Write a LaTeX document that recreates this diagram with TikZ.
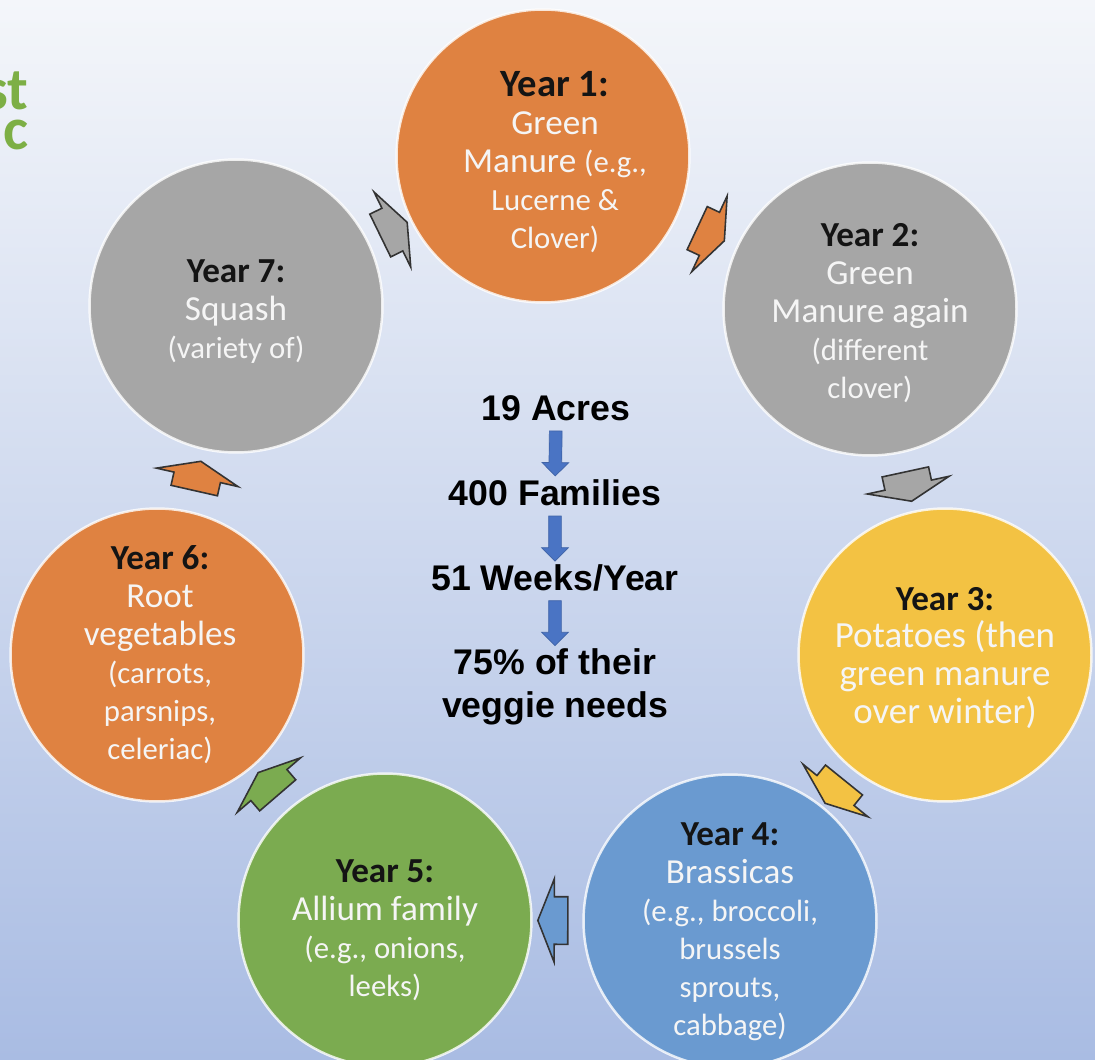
\documentclass[tikz,border=0pt]{standalone}
\usepackage{fontspec}
\setmainfont{Carlito}
\newfontfamily\arialfont{Liberation Sans}
\usetikzlibrary{shapes.arrows,calc}

\definecolor{rotorange}{HTML}{DF8241}
\definecolor{rotgray}{HTML}{A6A6A6}
\definecolor{rotyellow}{HTML}{F3C243}
\definecolor{rotblue}{HTML}{6A9AD0}
\definecolor{rotgreen}{HTML}{7BAB50}
\definecolor{titlegreen}{HTML}{7DAF45}
\definecolor{flowblue}{HTML}{4A74C4}
\definecolor{bgtop}{HTML}{F4F6FA}
\definecolor{bgbottom}{HTML}{A9BCE3}

\newcommand\yearlabel[1]{{\bfseries\color{black!92}#1}}
\newcommand\smalltext{\fontsize{17.5}{21.6}\selectfont}
\newcommand\bigtext{\fontsize{21}{21.6}\selectfont}

\tikzset{
	yearcircle/.style={circle, minimum size=5.86cm, inner sep=0pt, draw=white, draw opacity=0.8, line width=1.4pt},
	yeartext/.style={align=center, inner sep=0pt, text=white!96!black, font=\fontsize{20}{21.6}\selectfont},
	cyclearrow/.style={single arrow, draw=black!80, line width=0.9pt, inner xsep=0pt, inner ysep=0.46cm, minimum height=0.6cm, minimum width=1.64cm, single arrow head extend=0.36cm, single arrow tip angle=137, sloped, allow upside down},
	flowtext/.style={align=center, font=\arialfont\bfseries\fontsize{20.3}{24.5}\selectfont},
	flowarrow/.style={single arrow, fill=flowblue, draw=flowblue!85!black, line width=0.4pt, inner xsep=0pt, inner ysep=0.12cm, minimum height=0.9cm, minimum width=0.52cm, single arrow head extend=0.14cm, single arrow tip angle=90, sloped, allow upside down}
}

\begin{document}
\begin{tikzpicture}[x=0.02cm, y=-0.02cm]
		\useasboundingbox (0,0) rectangle (1095,1060);
		\clip (0,0) rectangle (1095,1060);
		\shade[top color=bgtop, bottom color=bgbottom] (0,0) rectangle (1095,1060);
		% title, cut off at the left edge
		\node[anchor=south east, inner sep=0pt, align=right, text=titlegreen, font=\bfseries\fontsize{34}{22.8}\selectfont] (titlepart) at (29,150) {st\\c};
		%
		\node[yearcircle, fill=rotorange] (y1) at (543,156) {};
		\node[yearcircle, fill=rotgray] (y2) at (870,309) {};
		\node[yearcircle, fill=rotyellow] (y3) at (945,655) {};
		\node[yearcircle, fill=rotblue] (y4) at (730,921) {};
		\node[yearcircle, fill=rotgreen] (y5) at (385,920) {};
		\node[yearcircle, fill=rotorange] (y6) at (157,655) {};
		\node[yearcircle, fill=rotgray] (y7) at (236,306) {};
		%
		\node[yeartext] (t1) at ([shift={(12,6)}]y1) {{\fontsize{22}{21.6}\selectfont\yearlabel{Year 1:}}\\Green\\Manure {\smalltext(e.g.,}\\{\smalltext Lucerne \&}\\{\smalltext Clover)}};
		\node[yeartext] (t2) at ([shift={(0,4)}]y2) {\yearlabel{Year 2:}\\Green\\Manure again\\{\smalltext(different}\\{\smalltext clover)}};
		\node[yeartext] (t3) at ([shift={(0,3)}]y3) {\yearlabel{Year 3:}\\{\bigtext Potatoes (then}\\{\bigtext green manure}\\{\bigtext over winter)}};
		\node[yeartext] (t4) at ([shift={(0,11)}]y4) {\yearlabel{Year 4:}\\Brassicas\\{\smalltext(e.g., broccoli,}\\{\smalltext brussels}\\{\smalltext sprouts,}\\{\smalltext cabbage)}};
		\node[yeartext] (t5) at ([shift={(0,10)}]y5) {\yearlabel{Year 5:}\\Allium family\\{\smalltext(e.g., onions,}\\{\smalltext leeks)}};
		\node[yeartext] (t6) at ([shift={(3,0)}]y6) {\yearlabel{Year 6:}\\Root\\vegetables\\{\smalltext(carrots,}\\{\smalltext parsnips,}\\{\smalltext celeriac)}};
		\node[yeartext] (t7) at ([shift={(0,6)}]y7) {\yearlabel{Year 7:}\\Squash\\{\smalltext(variety of)}};
		% block arrows round the cycle
		\path (y7) -- node[cyclearrow, fill=rotgray] {} (y1);
		\path (y1) -- node[cyclearrow, fill=rotorange] {} (y2);
		\path (y2) -- node[cyclearrow, fill=rotgray] {} (y3);
		\path (y3) -- node[cyclearrow, fill=rotyellow] {} (y4);
		\path (y4) -- node[cyclearrow, fill=rotblue] {} (y5);
		\path (y5) -- node[cyclearrow, fill=rotgreen] {} (y6);
		\path (y6) -- node[cyclearrow, fill=rotorange] {} (y7);
		% middle column
		\node[flowtext] (acres) at (556,408) {19 Acres};
		\node[flowtext] (families) at (555,493) {400 Families};
		\node[flowtext] (weeks) at (555,578) {51 Weeks/Year};
		\node[flowtext] (needs) at (555,687) {75\% of their\\veggie needs};
		\path (acres) -- node[flowarrow] {} (families);
		\path (families) -- node[flowarrow] {} (weeks);
		\path (weeks) -- node[flowarrow] {} (needs);
	\end{tikzpicture}
\end{document}
